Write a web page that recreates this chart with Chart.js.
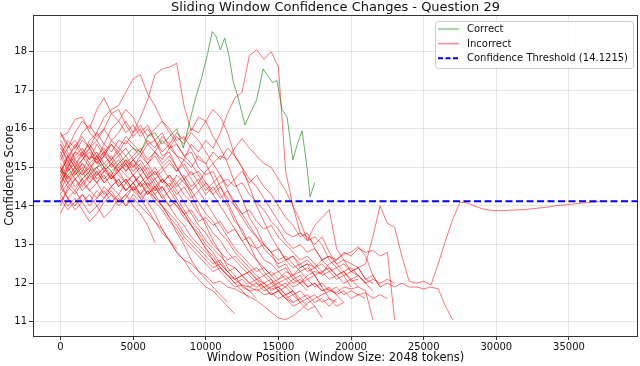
<!DOCTYPE html>
<html>
<head>
<meta charset="utf-8">
<script src="https://cdn.jsdelivr.net/npm/chart.js@4.4.1/dist/chart.umd.min.js"></script>
<style>
  html, body { margin: 0; padding: 0; background: #fff; }
  #confChart { display: block; }
</style>
</head>
<body>
<canvas id="confChart" width="640" height="366"></canvas>
<script>
// window positions are sampled every STEP tokens for the incorrect runs
const STEP = 500;
const THRESHOLD = 14.1215;
const X_TICKS = [0, 5000, 10000, 15000, 20000, 25000, 30000, 35000];
const Y_TICKS = [11, 12, 13, 14, 15, 16, 17, 18];
const X_LIMITS = [-1893, 39753];
const Y_LIMITS = [10.63, 18.95];

// the single "Correct" run
const correctX = [0, 500, 1000, 1500, 2000, 2500, 3000, 3500, 4000, 4500, 5000, 5500, 6000, 6500, 7000, 7500, 8000, 8450, 8900, 9300, 9700, 10100, 10450, 10700, 11000, 11300, 11600, 11900, 12200, 12700, 13050, 13500, 13950, 14300, 14600, 14900, 15250, 15600, 16000, 16300, 16630, 16970, 17180, 17500];
const correctY = [14.9, 14.8, 15.0, 14.7, 14.9, 15.0, 15.1, 14.9, 15.1, 15.3, 15.5, 15.4, 15.8, 15.9, 15.6, 15.8, 16.0, 15.5, 16.2, 16.8, 17.3, 17.9, 18.52, 18.4, 18.05, 18.35, 17.9, 17.2, 16.85, 16.1, 16.4, 16.75, 17.55, 17.35, 17.2, 17.25, 16.5, 16.3, 15.2, 15.6, 15.95, 15.0, 14.24, 14.6];

// "Incorrect" runs, one value per STEP
const incorrectRuns = [
  [15.6, 15.1, 15.4, 15.3, 15.7, 15.9, 16.3, 16.5, 16.6, 16.95, 17.3, 17.4, 16.9, 16.6, 16.2, 16.0, 15.7, 15.8, 15.5, 15.2, 15.1, 14.7, 14.3, 14.0, 13.6, 13.4, 13.0, 12.9, 12.6, 12.5, 12.3, 12.4, 12.1, 12.2, 11.9, 12.0, 11.8, 11.9, 11.7, 11.5],
  [14.6, 14.9, 15.2, 14.9, 15.3, 15.2, 15.6, 15.4, 15.7, 15.6, 15.9, 16.3, 16.75, 17.4, 17.55, 17.6, 17.7, 16.6, 15.95, 16.3, 16.2, 15.8, 15.5, 15.1, 14.6, 14.2, 13.7, 13.4, 13.0, 12.8, 12.4, 12.5, 12.2, 12.3, 12.1, 12.2, 11.9],
  [15.0, 14.6, 14.9, 15.1, 14.8, 15.0, 15.3, 15.1, 14.9, 15.2, 15.0, 15.3, 15.1, 15.4, 15.2, 15.5, 15.3, 15.2, 15.6, 15.4, 15.7, 15.5, 15.9, 16.4, 16.8, 16.95, 17.9, 18.05, 17.8, 18.0, 17.6, 14.9, 14.0, 13.3, 13.2, 13.0, 13.2, 12.8, 12.5, 12.6, 12.3, 12.4, 12.1, 12.0],
  [14.8, 15.3, 15.0, 15.4, 15.2, 15.6, 15.3, 15.7, 15.5, 15.8, 15.6, 15.4, 15.7, 15.5, 15.8, 15.6, 15.9, 15.7, 16.0, 15.9, 16.2, 16.5, 16.3, 15.9, 15.3, 15.0, 14.5, 14.0, 13.6, 13.2, 12.9, 12.6, 12.7, 12.4, 12.5, 12.2, 12.3, 12.1, 12.2, 12.0, 12.1, 11.9, 11.8, 11.05],
  [15.2, 15.5, 15.9, 16.2, 16.0, 16.5, 16.8, 16.4, 16.5, 16.1, 15.8, 16.0, 15.6, 15.7, 15.3, 15.4, 15.0, 14.7, 14.3, 13.9, 13.5, 13.1, 12.8, 12.4, 12.2, 11.9, 11.8, 11.6],
  [15.8, 15.9, 16.25, 16.3, 15.9, 15.7, 16.0, 16.4, 16.2, 16.5, 16.3, 15.9, 16.1, 15.7, 15.9, 15.5, 15.6, 15.3, 15.4, 15.0, 14.8, 14.9, 14.5, 14.1, 13.7, 13.3, 13.0, 12.6, 12.3, 12.1, 11.8, 11.6, 11.4, 11.5, 11.3, 11.4, 11.1],
  [14.9, 15.2, 14.8, 15.1, 14.9, 15.3, 15.0, 14.8, 15.1, 14.9, 15.2, 15.0, 14.7, 14.9, 14.6, 14.8, 14.5, 14.7, 14.9, 14.6, 14.9, 15.1, 15.3, 15.2, 15.5, 15.75, 15.5, 15.3, 15.1, 15.0, 14.7, 14.4, 14.0, 13.6, 13.1, 13.5, 13.7, 13.9, 12.9, 12.6, 12.5, 12.4, 12.1, 12.2, 11.9, 12.0, 11.9, 12.0, 11.9, 11.9, 11.85, 11.9, 11.85, 11.4, 11.05],
  [15.1, 14.7, 14.9, 14.6, 14.8, 15.0, 14.7, 14.9, 14.5, 14.7, 14.4, 14.6, 14.3, 14.5, 14.2, 14.0, 14.1, 13.8, 13.9, 13.6, 13.7, 13.5, 13.6, 13.3, 13.4, 13.1, 13.2, 12.9, 13.0, 12.8, 12.9, 12.6, 12.7, 12.5, 12.6, 12.4, 12.5, 12.3, 12.4, 12.2, 12.3, 12.4, 12.5, 13.2, 14.0, 13.55, 13.45, 12.7, 12.05, 12.0, 12.05, 11.95, 12.5, 13.1, 13.65, 14.1, 14.08, 14.0, 13.93, 13.89, 13.88, 13.88, 13.89, 13.9, 13.91, 13.93, 13.95, 13.97, 14.0, 14.02, 14.04, 14.06, 14.08, 14.09, 14.11, 14.12],
  [14.4, 14.8, 14.5, 14.7, 14.4, 14.6, 14.3, 14.5, 14.7, 14.4, 14.6, 14.3, 14.5, 14.2, 14.0, 13.8, 13.6, 13.3, 13.1, 12.9, 12.7, 12.5, 12.6, 12.3, 12.4, 12.2, 12.3, 12.1, 12.2, 12.0, 12.1, 12.3, 12.2, 12.4, 12.5, 12.4, 12.6, 12.7, 12.6, 12.8, 12.7, 12.9, 12.8, 12.85, 12.7, 12.8, 11.05],
  [14.2, 13.9, 14.1, 14.3, 14.0, 14.2, 14.4, 14.1, 14.3, 14.0, 14.2, 14.0, 13.8, 13.6, 13.3, 13.1, 12.8, 12.6, 12.5, 12.3, 12.2, 12.0, 12.05, 11.9, 11.85, 11.75, 11.65, 11.55, 11.4, 11.25, 11.1, 11.05, 11.15, 11.3, 11.48, 11.6, 11.7, 11.8, 11.75, 11.9, 11.85, 11.9],
  [14.0, 14.5, 14.3, 14.6, 14.4, 14.2, 14.5, 14.3, 14.1, 14.3, 14.0, 13.8, 13.5, 13.05],
  [14.3, 14.6, 14.4, 14.7, 14.9, 14.6, 14.8, 14.5, 14.7, 14.4, 14.6, 14.3, 14.1, 13.8, 13.4, 13.1, 12.9],
  [15.3, 14.9, 15.1, 14.8, 15.0, 14.7, 14.9, 15.1, 14.8, 14.6, 14.8, 14.5, 14.6, 14.3, 14.0, 13.7, 13.3, 13.0, 12.6, 12.3, 12.1, 11.9, 11.7, 11.5],
  [14.6, 15.0, 14.7, 14.9, 14.6, 14.8, 15.0, 14.7, 14.9, 14.6, 14.8, 14.5, 14.7, 14.4, 14.5, 14.2, 14.0, 13.7, 13.5, 13.2, 12.9, 12.7, 12.4, 12.2, 12.0, 11.8, 11.6],
  [15.4, 15.0, 15.3, 15.5, 15.2, 15.4, 15.1, 15.3, 15.0, 15.2, 14.9, 15.1, 14.8, 15.0, 14.7, 14.5, 14.2, 13.9, 13.6, 13.4, 13.1, 12.9, 12.7, 12.5, 12.4, 12.2, 12.3, 12.1, 12.0, 12.1, 11.9, 12.0, 11.8, 11.5],
  [14.9, 15.3, 15.0, 15.2, 15.5, 15.1, 15.4, 15.2, 15.5, 15.3, 15.0, 15.2, 14.9, 14.6, 14.3, 14.0, 13.7, 13.5, 13.2, 13.0, 12.8, 12.6, 12.4, 12.2, 12.1, 11.95, 11.9, 11.8, 11.9, 11.7, 11.8, 11.6, 11.7, 11.5, 11.6, 11.4],
  [14.7, 15.1, 14.9, 15.2, 15.4, 15.1, 15.3, 15.6, 15.4, 15.7, 15.5, 15.3, 15.6, 15.4, 15.7, 15.5, 15.8, 15.6, 15.9, 15.7, 15.4, 15.1, 14.8, 14.4, 14.0, 13.7, 13.4, 13.2, 12.9, 12.7, 12.5, 12.6, 12.4, 12.5, 12.3, 12.4, 12.2, 12.3, 12.1, 12.2, 11.9],
  [15.5, 15.2, 15.6, 15.3, 15.5, 15.2, 15.4, 15.0, 15.2, 14.9, 15.1, 14.8, 15.0, 14.7, 14.9, 15.1, 14.9, 15.2, 15.0, 15.3, 15.1, 15.4, 15.2, 15.5, 15.3, 15.0, 14.7, 14.5, 14.2, 13.9, 13.6, 13.3, 13.2, 13.3, 13.1, 13.2, 13.0, 12.6, 12.4, 12.5, 12.3, 12.2, 12.0],
  [14.5, 14.2, 14.4, 14.1, 14.3, 14.0, 14.2, 14.4, 14.1, 14.3, 14.5, 14.2, 14.4, 14.1, 13.9, 13.6, 13.4, 13.1, 12.9, 12.7, 12.5, 12.3, 12.4, 12.2, 12.0, 12.1, 11.9, 12.0, 11.8, 11.9, 12.0, 11.9, 12.1, 12.0, 12.2, 12.3, 12.25, 12.5, 12.6, 12.75, 12.8, 12.95, 12.7, 12.2, 11.9],
  [15.0, 14.7, 15.0, 14.8, 15.1, 14.8, 15.0, 14.7, 14.9, 15.1, 14.8, 15.0, 14.7, 14.9, 14.6, 14.8, 14.6, 14.8, 14.5, 14.7, 14.4, 14.6, 14.8, 14.5, 14.7, 14.9, 14.6, 14.8, 14.5, 14.3, 14.0, 13.7, 13.5, 13.2, 13.3, 12.9, 12.6, 12.4, 12.2, 12.3, 12.05, 12.1],
  [14.1, 14.4, 14.7, 14.5, 14.8, 14.6, 14.9, 14.7, 15.0, 14.8, 14.6, 14.8, 14.5, 14.3, 14.5, 14.2, 14.0, 13.8, 13.5, 13.3, 13.0, 12.8, 12.5, 12.3, 12.1, 12.2, 12.0, 11.9, 12.0, 11.8, 11.9, 11.7, 11.8, 11.6, 11.7, 11.5, 11.6, 11.4, 11.6],
  [15.7, 15.4, 15.1, 15.3, 15.0, 15.2, 14.9, 15.1, 15.3, 15.0, 15.2, 14.9, 15.1, 14.8, 15.0, 14.7, 14.4, 14.1, 13.8, 13.5, 13.3, 13.0, 12.8, 12.6, 12.7, 12.5, 12.3, 12.4, 12.2, 12.3, 12.1, 12.2, 12.0, 12.1, 11.9, 12.0, 11.8, 11.85, 11.7, 11.8, 11.6, 11.7, 11.6],
  [14.5, 15.0, 15.4, 15.7, 15.5, 15.9, 15.6, 16.0, 16.2, 15.9, 16.1, 15.8, 16.0, 15.7, 15.4, 15.6, 15.3, 15.0, 14.7, 14.4, 14.1, 13.8, 13.5, 13.2, 12.9, 12.7, 12.5, 12.3, 12.4, 12.2, 12.0, 12.1, 11.9, 12.0, 11.8],
  [15.9, 15.5, 15.7, 15.4, 15.6, 15.3, 15.5, 15.2, 15.4, 15.1, 15.3, 15.5, 15.2, 15.4, 15.1, 15.3, 15.0, 14.7, 14.4, 14.1, 13.8, 13.6, 13.3, 13.1, 12.8, 12.6, 12.4, 12.2, 12.0, 11.85, 11.9, 11.7, 11.8],
  [13.8, 14.2, 14.0, 14.3, 14.1, 14.4, 14.2, 14.5, 14.3, 14.6, 14.4, 14.6, 14.3, 14.5, 14.2, 14.4, 14.1, 13.8, 13.5, 13.2, 12.9, 12.6, 12.3, 12.1, 11.9, 11.95, 11.8, 11.85, 11.7, 11.75, 11.6, 11.7, 11.5, 11.6, 11.4],
  [14.6, 14.2, 13.9, 14.1, 13.8, 14.0, 13.7, 13.9, 14.2, 14.0, 14.3, 14.1, 14.4, 14.2, 14.0, 13.7, 13.5, 13.2, 13.0, 12.8, 12.6, 12.4, 12.5, 12.3, 12.1, 12.2, 12.0, 12.1, 11.9, 12.0, 11.8, 11.9, 11.7, 11.8, 11.6, 11.7, 11.5, 11.6, 11.4, 11.5],
  [15.3, 15.7, 15.5, 15.9, 16.1, 15.8, 16.0, 15.7, 15.9, 16.2, 15.9, 16.1, 15.8, 16.0, 16.2, 15.9, 15.6, 15.3, 15.1, 14.8, 14.5, 14.3, 14.5, 14.2, 14.0, 13.8, 13.9, 13.6, 13.4, 13.5, 13.2, 13.0, 12.8, 12.6, 12.7, 12.5, 12.3, 12.4, 12.2, 12.3, 12.1, 12.2, 12.0, 12.1, 12.0, 12.1, 12.0],
  [14.8, 14.5, 14.7, 14.4, 14.6, 14.9, 14.6, 14.8, 14.5, 14.7, 14.4, 14.2, 13.9, 13.6, 13.4, 13.1, 12.8, 12.6, 12.3, 12.1, 11.9, 11.8, 11.6, 11.4, 11.2],
  [15.6, 15.3, 15.5, 15.8, 15.5, 15.7, 15.4, 15.6, 15.3, 15.5, 15.2, 15.4, 15.1, 15.3, 15.0, 15.2, 14.9, 15.1, 14.8, 14.9, 14.6, 14.3, 14.0, 13.7, 13.4, 13.1, 12.8, 12.6, 12.4, 12.2, 12.3, 12.1, 12.2, 12.0, 12.1, 11.9, 12.0, 11.8, 11.9, 11.7, 11.8, 11.7, 11.75, 11.6, 11.7, 11.6],
  [14.3, 14.0, 14.2, 13.9, 13.6, 13.8, 14.1, 14.3, 14.0, 14.2, 14.5, 14.3, 14.6, 14.4, 14.7, 14.5, 14.8, 14.6, 14.4, 14.6, 14.3, 14.5, 14.2, 14.4, 14.1, 13.8, 13.5, 13.2, 13.0, 12.8, 12.6, 12.7, 12.5, 12.3, 12.4, 12.2, 11.9, 11.6, 11.5],
  [15.9, 15.6, 15.2, 15.4, 15.1, 15.3, 15.0, 15.2, 14.9, 15.1, 14.8, 14.6, 14.8, 14.5, 14.7, 14.4, 14.6, 14.3, 14.1, 13.8, 13.6, 13.3, 13.1, 12.8, 12.6, 12.4, 12.2, 12.0, 11.9, 11.7, 11.8, 11.6, 11.5],
  [14.9, 14.6, 14.8, 15.0, 14.7, 14.9, 14.6, 14.8, 14.6, 14.4, 14.6, 14.8, 14.5, 14.7, 14.4, 14.6, 14.3, 14.5, 14.2, 14.4, 14.6, 14.4, 14.6, 14.7, 14.5, 14.6, 14.3, 14.1, 13.9, 13.6, 13.4, 13.1, 12.9, 13.0, 12.8, 12.9, 12.6, 12.7, 12.5, 12.3, 12.4, 12.2, 12.0, 11.8]
];

const RED = 'rgba(255, 0, 0, 0.55)';
const GREEN = 'rgba(0, 128, 0, 0.6)';
const BLUE = '#0000ff';
const FONT = "'DejaVu Sans', sans-serif";

const datasets = [];
datasets.push({
  label: 'Confidence Threshold (' + THRESHOLD + ')',
  data: [{x: X_LIMITS[0], y: THRESHOLD}, {x: X_LIMITS[1], y: THRESHOLD}],
  borderColor: BLUE,
  borderWidth: 2,
  borderDash: [7, 3.5]
});
datasets.push({
  label: 'Correct',
  data: correctX.map((x, i) => ({x: x, y: correctY[i]})),
  borderColor: GREEN,
  borderWidth: 1
});
incorrectRuns.forEach((run, k) => {
  datasets.push({
    label: k === 0 ? 'Incorrect' : '',
    data: run.map((y, i) => ({x: i * STEP, y: y})),
    borderColor: RED,
    borderWidth: 1
  });
});

// matplotlib-ish frame, title and legend box drawn on top
const decorations = {
  id: 'decorations',
  afterDraw(chart) {
    const ctx = chart.ctx;
    const a = chart.chartArea;
    ctx.save();
    ctx.strokeStyle = '#333';
    ctx.lineWidth = 1;
    ctx.strokeRect(Math.round(a.left) + 0.5, Math.round(a.top) + 0.5,
      Math.round(a.right - a.left) - 1, Math.round(a.bottom - a.top));

    ctx.fillStyle = '#111';
    ctx.font = '13px ' + FONT;
    ctx.textAlign = 'center';
    ctx.textBaseline = 'middle';
    ctx.fillText('Sliding Window Confidence Changes - Question 29', (a.left + a.right) / 2, 8);

    // legend
    const bx = 435, by = 21, bw = 198, bh = 47;
    ctx.fillStyle = 'rgba(255,255,255,0.85)';
    ctx.strokeStyle = '#cccccc';
    ctx.beginPath();
    ctx.roundRect(bx + 0.5, by + 0.5, bw, bh, 3);
    ctx.fill();
    ctx.stroke();
    const rows = [
      {text: 'Correct', color: 'rgba(0, 128, 0, 0.45)', width: 1.5, dash: []},
      {text: 'Incorrect', color: 'rgba(255, 0, 0, 0.45)', width: 1.5, dash: []},
      {text: 'Confidence Threshold (' + THRESHOLD + ')', color: BLUE, width: 2, dash: [5, 2.5]}
    ];
    ctx.font = '10px ' + FONT;
    ctx.textAlign = 'left';
    rows.forEach((r, i) => {
      const y = 29 + i * 14.6;
      ctx.strokeStyle = r.color;
      ctx.lineWidth = r.width;
      ctx.setLineDash(r.dash);
      ctx.beginPath();
      ctx.moveTo(438, y);
      ctx.lineTo(459, y);
      ctx.stroke();
      ctx.setLineDash([]);
      ctx.fillStyle = '#111';
      ctx.fillText(r.text, 467, y + 0.5);
    });
    ctx.restore();
  }
};

new Chart(document.getElementById('confChart'), {
  type: 'scatter',
  data: { datasets: datasets },
  options: {
    responsive: false,
    devicePixelRatio: 1,
    animation: false,
    showLine: true,
    elements: {
      point: { radius: 0 },
      line: { tension: 0, fill: false }
    },
    layout: { padding: { top: 15, right: 2, left: 0, bottom: 0 } },
    plugins: {
      legend: { display: false },
      tooltip: { enabled: false },
      title: { display: false }
    },
    scales: {
      x: {
        type: 'linear',
        min: X_LIMITS[0],
        max: X_LIMITS[1],
        afterBuildTicks: s => { s.ticks = X_TICKS.map(v => ({value: v})); },
        afterFit: s => { s.height = 30; },
        border: { display: false },
        grid: { color: 'rgba(176,176,176,0.3)', tickColor: '#333', tickLength: 4 },
        ticks: { color: '#111', font: { family: FONT, size: 10 }, padding: 1, maxRotation: 0,
          callback: v => String(v) },
        title: { display: true, text: 'Window Position (Window Size: 2048 tokens)',
          color: '#111', font: { family: FONT, size: 11.5 }, padding: { top: 0, bottom: 1 } }
      },
      y: {
        min: Y_LIMITS[0],
        max: Y_LIMITS[1],
        afterBuildTicks: s => { s.ticks = Y_TICKS.map(v => ({value: v})); },
        afterFit: s => { s.width = 33; },
        border: { display: false },
        grid: { color: 'rgba(176,176,176,0.3)', tickColor: '#333', tickLength: 4 },
        ticks: { color: '#111', font: { family: FONT, size: 10 }, padding: 2 },
        title: { display: true, text: 'Confidence Score',
          color: '#111', font: { family: FONT, size: 11.5 }, padding: { top: 3, bottom: 0 } }
      }
    }
  },
  plugins: [decorations]
});
</script>
</body>
</html>
